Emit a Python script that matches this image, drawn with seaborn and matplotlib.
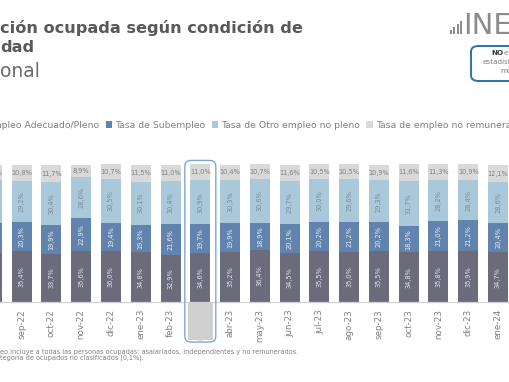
import numpy as np
import pandas as pd
import seaborn as sns
import matplotlib.pyplot as plt
from matplotlib.patches import FancyBboxPatch, Rectangle, Patch

sns.set_style("white")
plt.rcParams['font.family'] = ['DejaVu Sans']

W, H = 510, 382

# datos (en %), ago-22 queda cortado a la izquierda
months = ['ago-22', 'sep-22', 'oct-22', 'nov-22', 'dic-22', 'ene-23', 'feb-23', 'mar-23', 'abr-23',
          'may-23', 'jun-23', 'jul-23', 'ago-23', 'sep-23', 'oct-23', 'nov-23', 'dic-23', 'ene-24']
adecuado = [34.2, 35.4, 33.7, 35.6, 36.0, 34.8, 32.9, 34.6, 35.2, 36.4, 34.5, 35.5, 35.0, 35.5, 34.8, 35.8, 35.9, 34.7]
subempleo = [21.0, 20.3, 19.9, 22.9, 19.4, 19.3, 21.6, 19.7, 19.9, 18.9, 20.1, 20.2, 21.2, 20.2, 18.3, 21.0, 21.2, 20.4]
otro_no_pleno = [29.8, 29.2, 30.4, 28.6, 30.5, 30.1, 30.4, 30.9, 30.3, 30.6, 29.7, 30.0, 29.6, 29.3, 31.7, 28.2, 28.4, 28.6]
no_remunerado = [10.8, 10.8, 11.7, 8.9, 10.7, 11.5, 11.0, 11.0, 10.4, 10.7, 11.6, 10.5, 10.5, 10.9, 11.6, 11.3, 10.9, 12.1]

series_names = ['Tasa de Empleo Adecuado/Pleno', 'Tasa de Subempleo',
                'Tasa de Otro empleo no pleno', 'Tasa de empleo no remunerado']
colors = ['#6b6b7b', '#6283ad', '#a9c9da', '#d9d9d9']
text_colors = ['#e2e2e8', '#e8edf4', '#7a8a9a', '#7f7f7f']
highlight = 'mar-23'

df = pd.DataFrame({'mes': months, 'a': adecuado, 'b': subempleo, 'c': otro_no_pleno, 'd': no_remunerado})
cols = ['a', 'b', 'c', 'd']
cum = df[cols].cumsum(axis=1)

fig = plt.figure(figsize=(W / 100, H / 100), dpi=100)
ax = fig.add_axes([0, (H - 302) / H, 1, 152 / H])

bar_w = 0.672
# barras apiladas: se dibuja el acumulado de arriba hacia abajo
for k in range(3, -1, -1):
    sns.barplot(x=df['mes'], y=cum[cols[k]], color=colors[k], width=bar_w,
                saturation=1, linewidth=0, ax=ax, zorder=2)

# etiquetas de cada segmento
for i in range(len(months)):
    base = 0
    for k, c in enumerate(cols):
        v = df.loc[i, c]
        txt = f"{v:.1f}%".replace('.', ',')
        rot = 0 if k == 3 else 90
        ax.text(i, base + v / 2, txt, ha='center', va='center', rotation=rot,
                fontsize=4.8, color=text_colors[k], zorder=5)
        base += v

ax.set_xlabel('')
ax.set_ylabel('')
ax.set_yticks([])
for s in ['top', 'right', 'left']:
    ax.spines[s].set_visible(False)
ax.spines['bottom'].set_color('#d0d0d0')
ax.spines['bottom'].set_linewidth(0.9)
ax.set_xticks(range(len(months)))
ax.set_xticklabels(months, rotation=90, fontsize=6.3, color='#808080')
ax.tick_params(axis='x', which='major', length=0, pad=5)
ax.set_xticks(np.arange(len(months) + 1) - 0.5, minor=True)
ax.tick_params(axis='x', which='minor', length=3, color='#c8c8c8', width=0.8)
# límites después de los ticks (set_xticks los expande)
ax.set_xlim(8.07 / 29.77, (W + 8.07) / 29.77)
ax.set_ylim(0, 152 / 1.43)

# resaltado de mar-23
hi = months.index(highlight)
ax.add_patch(Rectangle((hi - 0.42, -26.5), 0.84, 26.5, facecolor='#d0d0d0',
                       edgecolor='none', clip_on=False, zorder=1))
ax.add_patch(FancyBboxPatch((hi - 0.52, -28), 1.04, 127,
                            boxstyle='round,pad=0,rounding_size=0.2', mutation_aspect=29.77 / 1.43,
                            facecolor='none', edgecolor='#7aa7d6', linewidth=1.0,
                            clip_on=False, zorder=6))

# leyenda
handles = [Patch(facecolor=c, edgecolor='none') for c in colors]
fig.legend(handles, series_names, loc='center left', bbox_to_anchor=(-0.118, (H - 125) / H),
           ncol=4, frameon=False, fontsize=6.7, handlelength=0.7, handleheight=0.7,
           handletextpad=0.3, columnspacing=0.7, borderpad=0, borderaxespad=0,
           labelcolor='#7f7f7f')

# título
fig.text(0, 1 - 33 / H, 'ción ocupada según condición de', fontsize=11.6, fontweight='bold',
         color='#595959', va='baseline', ha='left')
fig.text(0, 1 - 52 / H, 'dad', fontsize=11.6, fontweight='bold', color='#595959', va='baseline', ha='left')
fig.text(0, 1 - 77 / H, 'onal', fontsize=13.5, color='#6b6b6b', va='baseline', ha='left')

# logo INEC
for j, h in enumerate([4, 7, 10, 13]):
    fig.add_artist(Rectangle(((450 + j * 3.3) / W, 1 - 34 / H), 2.2 / W, h / H,
                             transform=fig.transFigure, facecolor='#8c8c8c', edgecolor='none'))
fig.text(463 / W, 1 - 34 / H, 'INE', fontsize=21, color='#8c8c8c', va='baseline', ha='left')

# recuadro
fig.add_artist(FancyBboxPatch((471 / W, 1 - 81 / H), 60 / W, 35 / H,
                              boxstyle='round,pad=0,rounding_size=0.015', transform=fig.transFigure,
                              facecolor='none', edgecolor='#2e6eb5', linewidth=1.4))
fig.text(491 / W, 1 - 53 / H, 'NO', fontsize=5.2, fontweight='bold', color='#333333', va='center', ha='left')
fig.text(504 / W, 1 - 53 / H, 'e', fontsize=5.2, color='#7f7f7f', va='center', ha='left')
fig.text(483 / W, 1 - 62 / H, 'estadíst', fontsize=5.2, color='#7f7f7f', va='center', ha='left')
fig.text(500 / W, 1 - 71 / H, 'mo', fontsize=5.2, color='#7f7f7f', va='center', ha='left')

# notas
fig.text(0, 1 - 352 / H, 'eo incluye a todas las personas ocupadas: asalariados, independientes y no remunerados.',
         fontsize=4.7, color='#808080', va='center', ha='left')
fig.text(0, 1 - 358 / H, 'tegoría de ocupados no clasificados (0,1%).',
         fontsize=4.7, color='#808080', va='center', ha='left')

fig.savefig('out.png', dpi=100)
